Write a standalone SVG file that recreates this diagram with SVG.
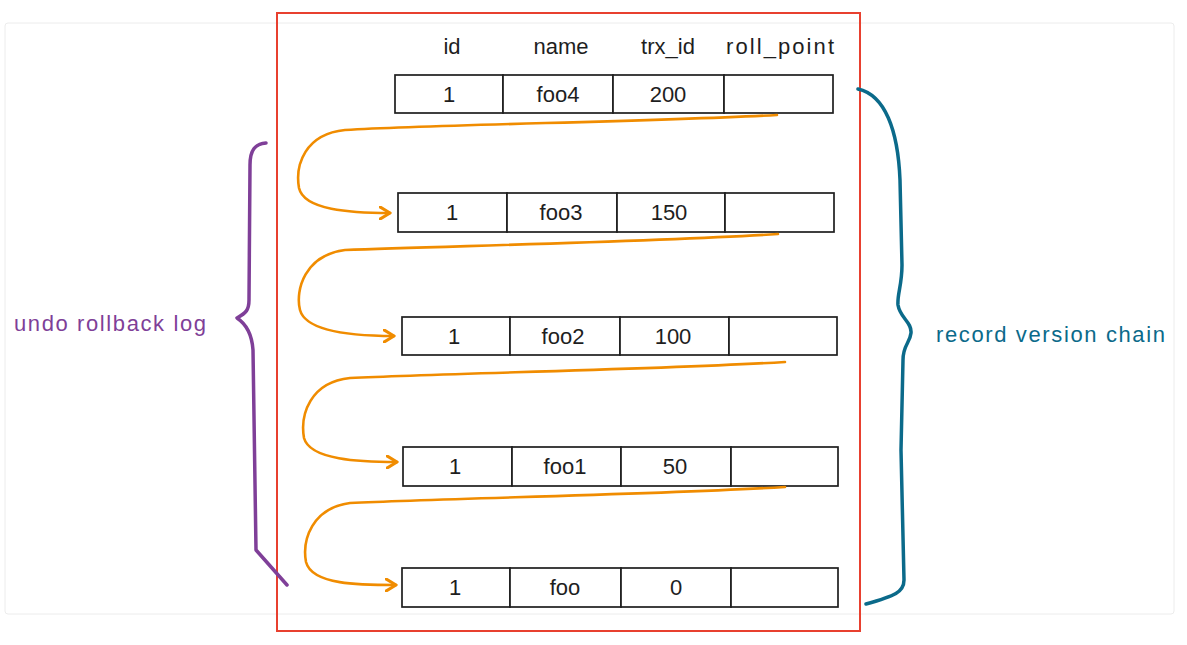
<svg xmlns="http://www.w3.org/2000/svg" width="1187" height="645" viewBox="0 0 1187 645">
<defs>
<style>
.cell{fill:#fff;stroke:#1e1e1e;stroke-width:1.7}
.t{font-family:"Liberation Sans",Arial,sans-serif;font-size:22px;fill:#1e1e1e;text-anchor:middle}
.h{font-family:"Liberation Sans",Arial,sans-serif;font-size:22px;fill:#1e1e1e;text-anchor:middle}
.arr{fill:none;stroke:#f08c00;stroke-width:2.6;stroke-linecap:round;stroke-linejoin:round}
</style>
<marker id="ah" markerWidth="14" markerHeight="14" refX="11" refY="7" orient="auto" markerUnits="userSpaceOnUse">
<path d="M1,1 L11,7 L1,13" fill="none" stroke="#f08c00" stroke-width="3.2" stroke-linecap="round" stroke-linejoin="round"/>
</marker>
</defs>
<rect x="0" y="0" width="1187" height="645" fill="#fff"/>
<rect x="5" y="23" width="1169" height="591" rx="3" fill="#fff" stroke="#ececec" stroke-width="1"/>
<rect id="frame" x="277" y="13" width="583" height="618" fill="none" stroke="#e8402f" stroke-width="2"/>

<g id="header">
<text class="h" x="452" y="54">id</text>
<text class="h" x="561" y="54">name</text>
<text class="h" x="668" y="54">trx_id</text>
<text class="h" x="780" y="54" textLength="108" lengthAdjust="spacing">roll_point</text>
</g>

<g id="row-foo4">
<rect class="cell" x="395" y="75" width="108" height="38"/>
<rect class="cell" x="503" y="75" width="110" height="38"/>
<rect class="cell" x="613" y="75" width="111" height="38"/>
<rect class="cell" x="724" y="75" width="109" height="38"/>
<text class="t" x="449" y="102">1</text>
<text class="t" x="558" y="102">foo4</text>
<text class="t" x="668" y="102">200</text>
</g>
<g id="row-foo3">
<rect class="cell" x="398" y="193" width="109" height="39"/>
<rect class="cell" x="507" y="193" width="110" height="39"/>
<rect class="cell" x="617" y="193" width="108" height="39"/>
<rect class="cell" x="725" y="193" width="109" height="39"/>
<text class="t" x="452" y="220">1</text>
<text class="t" x="561" y="220">foo3</text>
<text class="t" x="669" y="220">150</text>
</g>
<g id="row-foo2">
<rect class="cell" x="402" y="317" width="108" height="38"/>
<rect class="cell" x="510" y="317" width="110" height="38"/>
<rect class="cell" x="620" y="317" width="109" height="38"/>
<rect class="cell" x="729" y="317" width="108" height="38"/>
<text class="t" x="454" y="344">1</text>
<text class="t" x="563" y="344">foo2</text>
<text class="t" x="673" y="344">100</text>
</g>
<g id="row-foo1">
<rect class="cell" x="403" y="447" width="109" height="39"/>
<rect class="cell" x="512" y="447" width="109" height="39"/>
<rect class="cell" x="621" y="447" width="110" height="39"/>
<rect class="cell" x="731" y="447" width="107" height="39"/>
<text class="t" x="455" y="474">1</text>
<text class="t" x="565" y="474">foo1</text>
<text class="t" x="675" y="474">50</text>
</g>
<g id="row-foo">
<rect class="cell" x="402" y="568" width="108" height="39"/>
<rect class="cell" x="510" y="568" width="111" height="39"/>
<rect class="cell" x="621" y="568" width="110" height="39"/>
<rect class="cell" x="731" y="568" width="107" height="39"/>
<text class="t" x="455" y="595">1</text>
<text class="t" x="565" y="595">foo</text>
<text class="t" x="676" y="595">0</text>
</g>

<g id="connectors">
<path class="arr" marker-end="url(#ah)" d="M777,115 C650,122 450,124 345,130 C305,134 295,165 299,188 C304,210 350,213 390,213"/>
<path class="arr" marker-end="url(#ah)" d="M778,234 C650,242 450,246 345,250 C305,255 295,290 300,310 C306,332 355,336 394,336"/>
<path class="arr" marker-end="url(#ah)" d="M785,362 C650,370 450,373 350,378 C310,382 300,415 304,438 C310,460 360,462 397,462"/>
<path class="arr" marker-end="url(#ah)" d="M785,487 C650,495 450,498 350,503 C312,508 302,540 306,562 C312,585 360,585 396,585"/>
</g>

<g id="undo-brace">
<path d="M266,143 C255,144 250,150 250,165 L249,300 C249,310 246,313 237,318 C246,324 252,335 253,350 L256,550 L287,585" fill="none" stroke="#7f3f98" stroke-width="3.5" stroke-linecap="round" stroke-linejoin="round"/>
<text x="14" y="331" font-family="'Liberation Sans',Arial,sans-serif" font-size="22" fill="#7f3f98" textLength="192" lengthAdjust="spacing">undo rollback log</text>
</g>

<g id="version-brace">
<path d="M858,89 C885,95 898,130 900,180 L902,265 C902,285 897,295 898,305 C900,318 912,322 911,333 C910,343 903,345 903,360 L901,450 L904,580 C904,592 895,596 866,604" fill="none" stroke="#0b6a8a" stroke-width="3.5" stroke-linecap="round" stroke-linejoin="round"/>
<text x="936" y="342" font-family="'Liberation Sans',Arial,sans-serif" font-size="22" fill="#0b6a8a" textLength="229" lengthAdjust="spacing">record version chain</text>
</g>
</svg>
